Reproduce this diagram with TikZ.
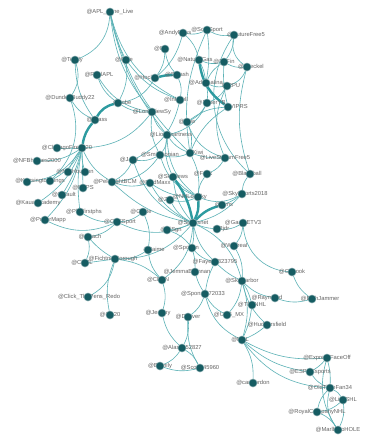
\documentclass[tikz,border=0pt]{standalone}
\usepackage{fontspec}
\setmainfont{Liberation Sans}
\definecolor{dotc}{RGB}{22,92,98}
\definecolor{edgec}{RGB}{92,178,182}
\definecolor{heavyc}{RGB}{45,155,160}
\definecolor{txtc}{RGB}{100,100,100}
\pgfdeclarelayer{bg}
\pgfdeclarelayer{edges}
\pgfdeclarelayer{dots}
\pgfsetlayers{bg,edges,main,dots}
\tikzset{
  dot/.style={circle,fill=dotc,draw=dotc!55!white,line width=0.5pt,inner sep=0pt,minimum size=8pt},
  lbl/.style={font=\fontsize{5.8}{6}\selectfont,text=txtc,inner sep=0pt},
  edge/.style={draw=edgec,line width=0.6pt},
  heavy/.style={draw=heavyc,line width=2.4pt},
}
% \gnode{name}{x}{y}{label}{label shift}
\newcommand\gnode[5]{%
  \node[lbl] (#1l) at (#2+#5,#3) {#4};
  \begin{pgfonlayer}{dots}\node[dot] (#1) at (#2,#3) {};\end{pgfonlayer}}
\begin{document}
\begin{tikzpicture}[x=1pt,y=-1pt]
\begin{pgfonlayer}{bg}
\fill[white] (0,0) rectangle (370,437);
\end{pgfonlayer}
\useasboundingbox (0,0) rectangle (370,437);

% upper left
\gnode{a1}{110}{12}{@APL\_Lone\_Live}{0}
\gnode{a2}{75}{60}{@Teddy}{-3}
\gnode{a3}{97}{75}{@RealAPL}{2}
\gnode{a4}{126}{60}{@Cole}{-2}
\gnode{a5}{70}{98}{@DundeeBuddy22}{0}
\gnode{a6}{118}{103}{@Jobe}{4}
% upper right cluster
\gnode{b1}{183}{33}{@AndyRoss}{-8}
\gnode{b2}{207}{30}{@ScotSport}{0}
\gnode{b3}{234}{35}{@FutureFree5}{12}
\gnode{b4}{165}{49}{@BB}{-4}
\gnode{b5}{199}{60}{@NaturalGas}{-4}
\gnode{b6}{224}{62}{@EnFin}{0}
\gnode{b7}{247}{67}{@Dreckel}{4}
\gnode{b8}{155}{78}{@Hockey}{-8}
\gnode{b9}{177}{75}{@Smash}{0}
\gnode{b10}{206}{83}{@Adrenalina}{0}
\gnode{b11}{227}{86}{@RPU}{4}
\gnode{b12}{180}{100}{@Inkwell}{-4}
\gnode{b13}{207}{103}{@BoxerYB}{4}
\gnode{b14}{228}{107}{@VIPRS}{8}
% left cluster
\gnode{c1}{152}{112}{@LongViewSy}{0}
\gnode{c2}{187}{122}{@Lhw}{0}
\gnode{c3}{167}{135}{@Lionheartness}{4}
\gnode{c4}{95}{120}{@Glass}{2}
\gnode{c5}{82}{148}{}{0}
\gnode{c6}{57}{148}{@ChicagoFire2020}{10}
\gnode{c7}{37}{161}{@NFBhomes2000}{0}
\gnode{c8}{68}{172}{@MsrHouston}{7}
\gnode{c8b}{85}{172}{}{0}
\gnode{c9}{50}{181}{@KensingtonKings}{-10}
\gnode{c9b}{27}{182}{}{0}
\gnode{c10}{112}{182}{@PeloFightBCM}{3}
\gnode{c11}{83}{188}{@NFPS}{0}
\gnode{c12}{62}{195}{@NRault}{2}
\gnode{c13}{38}{203}{@KauaiAcademy}{0}
\gnode{c14}{80}{212}{@Phillfirstphs}{4}
\gnode{c15}{45}{220}{@PokerMapp}{3}
\gnode{c16}{117}{222}{@CBSSport}{3}
\gnode{c17}{88}{237}{@Coach}{2}
\gnode{c18}{115}{259}{@FichtnerBorough}{-2}
\gnode{c19}{85}{263}{@CDSL}{-3}
\gnode{c20}{88}{297}{@Click\_ThePens\_Redo}{1}
\gnode{c21}{110}{315}{@CD20}{0}
% centre
\gnode{d1}{133}{160}{@Jane}{-4}
\gnode{d2}{160}{155}{@Smithsonian}{0}
\gnode{d3}{190}{153}{@Kiwi}{5}
\gnode{d4}{225}{158}{@LiveStreamFree5}{0}
\gnode{d5}{207}{174}{@Frisk}{-4}
\gnode{d6}{250}{174}{@Blackball}{-3}
\gnode{d7}{242}{194}{@SkySports2018}{3}
\gnode{d8}{222}{205}{@Tims}{2}
\gnode{d9}{198}{197}{@NHLonSky}{-8}
\gnode{d10}{170}{200}{@Zay}{-4}
\gnode{d11}{150}{183}{@MadMaxx}{5}
\gnode{d12}{173}{177}{@SkyNews}{0}
\gnode{d16}{193}{223}{@Sportsnet}{0}
\gnode{d17}{167}{230}{@SiSgn}{4}
\gnode{d18}{143}{212}{@Cmite}{-2}
\gnode{d20}{217}{229}{@Rjdr}{4}
\gnode{d22}{243}{223}{@GameETV3}{0}
\gnode{d23}{234}{246}{@Wildreal}{0}
\gnode{d24}{192}{248}{@Sportsn}{-6}
\gnode{d25}{148}{250}{@Jaime}{6}
% lower part
\gnode{d26}{215}{262}{@Fayette823795}{0}
\gnode{d27}{195}{272}{@JemmaBrennan}{-8}
\gnode{d28}{162}{280}{@CBSN}{-4}
\gnode{d29}{292}{272}{@Gobook}{0}
\gnode{d30}{242}{281}{@SkyHarbor}{0}
\gnode{d31}{205}{294}{@Sponsor72033}{-2}
\gnode{d32}{275}{298}{@Raymond}{-8}
\gnode{d33}{312}{299}{@BethJammer}{8}
\gnode{d34}{252}{305}{@TBLNHL}{0}
\gnode{d35}{162}{313}{@Jeremy}{-4}
\gnode{d36}{188}{317}{@Denver}{0}
\gnode{d37}{227}{315}{@URB\_MX}{2}
\gnode{d38}{267}{325}{@Huddersfield}{0}
\gnode{d39}{242}{340}{@NHL}{-2}
\gnode{d40}{182}{348}{@Alaska52827}{0}
\gnode{d41}{160}{366}{@BEmily}{0}
\gnode{d42}{200}{368}{@Scoop45960}{0}
% lower right cluster
\gnode{e1}{327}{358}{@ExpressFaceOff}{0}
\gnode{e2}{310}{372}{@ESPNEsports}{0}
\gnode{e3}{253}{383}{@carlgordon}{0}
\gnode{e4}{330}{388}{@OldTimeFan34}{0}
\gnode{e5}{343}{400}{@LiveSHL}{0}
\gnode{e6}{317}{412}{@RoyalCompanyNHL}{0}
\gnode{e7}{338}{430}{@MarlboroHOLE}{0}

\begin{pgfonlayer}{edges}
\foreach \u/\v/\b in {
  a1/a2/20, a1/a4/-5, a1/c1/-10, a1/b12/-15, a1/c3/-8, a1/d3/-10,
  a2/a5/15, a2/c4/-10, a3/a6/-10, a3/c1/-15, a4/b12/-10, a4/a6/10,
  a6/c1/-10, a6/b8/-15, a5/c9/20, a5/c4/-10,
  b1/b2/-10, b2/b3/-10, b1/b5/10, b2/b10/5, b3/b6/10, b3/b7/-20,
  b5/b6/-10, b5/b10/5, b6/b10/-10, b6/b7/-10, b10/b13/5, b11/b13/10,
  b7/b11/15, b10/b11/-10, b4/b9/-10, b9/b12/10, b13/c2/10, b14/c2/-10,
  b13/c3/15, b14/d3/-10, b11/d4/-15, b2/d3/-10, b3/d6/-25, b7/d6/-10,
  b6/b14/-5, b1/b8/10, b4/b8/10,
  c1/c3/-10, c1/c5/15, c1/d2/-10, c2/d3/10, c2/d4/-15, c3/d2/10,
  c3/d3/-10, c3/d12/-10, c3/d9/-15, b12/d1/15,
  c5/c6/0, c5/c7/10, c5/c8/-5, c5/c8b/-5, c5/c9/10, c5/c9b/15,
  c5/c10/-10, c5/c11/0, c5/c12/5, c5/c13/10, c5/c14/-5, c5/c15/10,
  c10/d11/-10, c10/d1/-10, c10/d16/-10, c10/d2/-15,
  c14/c16/-10, c15/c16/-15, c16/c17/10, c16/d18/-10, c16/d16/-15,
  c17/c18/-5, c18/c19/0, c18/c20/15, c18/c21/-10, c18/d25/-10,
  c18/d16/-15, c18/d28/10, c17/c19/10,
  d1/d2/-10, d1/d16/-15, d2/d9/-15, d2/d3/-10, d3/d4/-5, d3/d9/10,
  d4/d5/10, d5/d9/-10, d6/d7/-10, d7/d8/5, d7/d9/15, d9/d10/10,
  d12/d9/-5, d11/d16/-10, d11/d9/-10, d16/d17/5, d16/d20/-5, d16/d24/5,
  d20/d22/-10, d22/d23/10, d22/d29/-25, d16/d26/-10, d17/d24/10,
  d24/d26/-10, d23/d30/10, d26/d30/-5, d24/d27/5, d27/d31/-5,
  d28/d35/10, d16/d28/15, d18/d25/10, d25/d28/-10,
  d30/d32/-10, d30/d34/5, d30/d37/10, d30/d38/-10, d30/d39/10,
  d30/d16/-15, d31/d36/10, d31/d26/5, d31/d37/-10, d36/d42/-10,
  d36/d40/10, d35/d40/-10, d40/d41/10, d41/d42/-10, d40/d42/10,
  d39/e1/-10, d39/e2/-10, d39/e3/10, d39/e4/-15, d34/d39/5, d38/d39/5,
  d31/d39/-15,
  e1/e4/5, e2/e4/-10, e4/e5/10, e4/e6/-10, e4/e7/-15, e5/e7/10,
  e6/e7/10, e1/e2/5, e1/e7/-15, e5/e6/10,
  d29/d33/-10, d32/d33/-10, d10/d16/-10, d12/d16/-10, d7/d16/10}
  \draw[edge] (\u) to[bend left={1.6*\b}] (\v);
\foreach \u/\v/\b in {a6/c4/-15, c4/c5/-10, b8/b9/5, b5/b14/-15,
  d9/d16/10, d8/d16/-10, d12/d16/8}
  \draw[heavy] (\u) to[bend left={1.5*\b}] (\v);
\end{pgfonlayer}
\end{tikzpicture}
\end{document}
